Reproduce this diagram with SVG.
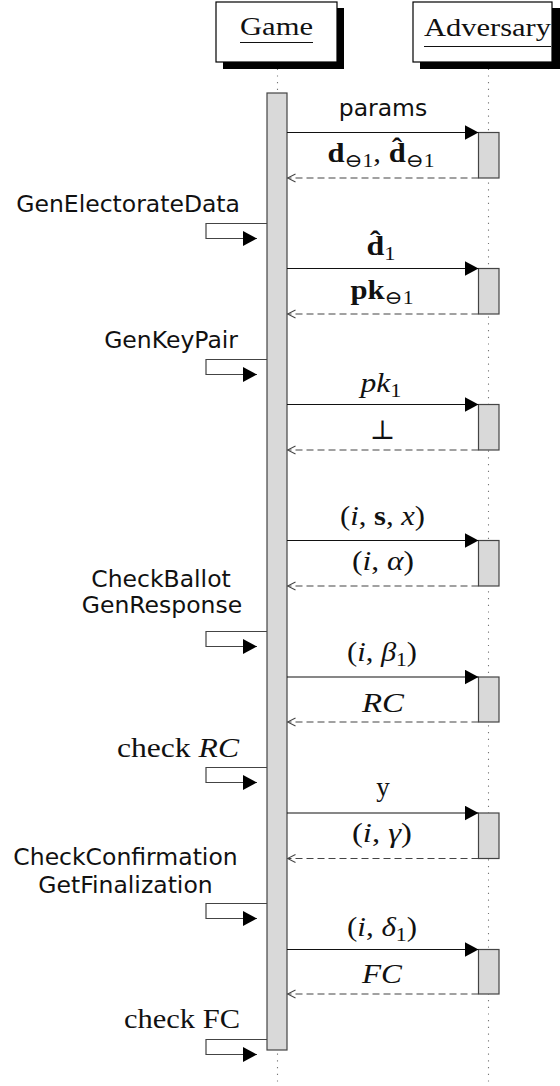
<svg xmlns="http://www.w3.org/2000/svg" width="560" height="1086" viewBox="0 0 560 1086">
<style>
.life{stroke:#777;stroke-width:1.1;stroke-dasharray:1.2 5.5;fill:none}
.box{fill:#fff;stroke:#000;stroke-width:1.2}
.shadow{fill:#000}
.bar{fill:#d9d9d9;stroke:#444;stroke-width:1.2}
.msg{stroke:#111;stroke-width:1.2;fill:none}
.ret{stroke:#444;stroke-width:1.2;stroke-dasharray:7 4;fill:none}
.self{stroke:#444;stroke-width:1.2;fill:none}
.sans{font-family:"DejaVu Sans",sans-serif;font-size:23.5px;fill:#111}
.m{font-family:"Liberation Serif","DejaVu Serif",serif;font-size:27px;fill:#111}
.hdr{font-family:"Liberation Serif","DejaVu Serif",serif;font-size:25px;fill:#111}
.i{font-style:italic}
.b{font-weight:bold}
.sub{font-size:19px}
</style>
<defs>
<marker id="fill" markerUnits="userSpaceOnUse" markerWidth="14" markerHeight="15" refX="14" refY="7.5" orient="auto">
<path d="M0,0 L14,7.5 L0,15 z" fill="#000"/>
</marker>
<marker id="open" markerUnits="userSpaceOnUse" markerWidth="10" markerHeight="10" refX="9" refY="5" orient="auto">
<path d="M1,1 L9,5 L1,9" fill="none" stroke="#444" stroke-width="1.1"/>
</marker>
</defs>
<rect width="560" height="1086" fill="#fff"/>

<g id="lifelines">
<line class="life" x1="277.5" y1="62" x2="277.5" y2="1086"/>
<line class="life" x1="488.5" y1="62" x2="488.5" y2="1086"/>
</g>

<g id="game">
<rect class="shadow" x="223" y="8" width="121" height="61"/>
<rect class="box" x="216" y="2" width="121" height="60"/>
<text class="hdr" x="240" y="35" textLength="73" lengthAdjust="spacingAndGlyphs">Game</text>
<line x1="240" y1="42.5" x2="313" y2="42.5" stroke="#111" stroke-width="1"/>
</g>

<g id="adversary">
<rect class="shadow" x="420" y="8" width="140" height="61"/>
<rect class="box" x="413" y="2" width="139" height="60"/>
<text class="hdr" x="424" y="36" textLength="127" lengthAdjust="spacingAndGlyphs">Adversary</text>
<line x1="424" y1="46.5" x2="551" y2="46.5" stroke="#111" stroke-width="1"/>
</g>

<g id="game-activation">
<rect class="bar" x="267" y="93" width="20" height="957"/>
</g>

<g id="adversary-activations">
<rect class="bar" x="478.5" y="132.5" width="20.5" height="45.5"/>
<rect class="bar" x="478.5" y="268.5" width="20.5" height="45.5"/>
<rect class="bar" x="478.5" y="404.5" width="20.5" height="45.5"/>
<rect class="bar" x="478.5" y="540.5" width="20.5" height="45.5"/>
<rect class="bar" x="478.5" y="677" width="20.5" height="45"/>
<rect class="bar" x="478.5" y="813" width="20.5" height="45.5"/>
<rect class="bar" x="478.5" y="949.5" width="20.5" height="44.5"/>
</g>

<g id="connectors">
<line class="msg" x1="287" y1="132.5" x2="478.5" y2="132.5" marker-end="url(#fill)"/>
<line class="ret" x1="478.5" y1="178" x2="287.5" y2="178" marker-end="url(#open)"/>
<line class="msg" x1="287" y1="268.5" x2="478.5" y2="268.5" marker-end="url(#fill)"/>
<line class="ret" x1="478.5" y1="314" x2="287.5" y2="314" marker-end="url(#open)"/>
<line class="msg" x1="287" y1="404.5" x2="478.5" y2="404.5" marker-end="url(#fill)"/>
<line class="ret" x1="478.5" y1="450" x2="287.5" y2="450" marker-end="url(#open)"/>
<line class="msg" x1="287" y1="540.5" x2="478.5" y2="540.5" marker-end="url(#fill)"/>
<line class="ret" x1="478.5" y1="586" x2="287.5" y2="586" marker-end="url(#open)"/>
<line class="msg" x1="287" y1="677" x2="478.5" y2="677" marker-end="url(#fill)"/>
<line class="ret" x1="478.5" y1="722" x2="287.5" y2="722" marker-end="url(#open)"/>
<line class="msg" x1="287" y1="813" x2="478.5" y2="813" marker-end="url(#fill)"/>
<line class="ret" x1="478.5" y1="858.5" x2="287.5" y2="858.5" marker-end="url(#open)"/>
<line class="msg" x1="287" y1="949.5" x2="478.5" y2="949.5" marker-end="url(#fill)"/>
<line class="ret" x1="478.5" y1="994" x2="287.5" y2="994" marker-end="url(#open)"/>

<path class="self" d="M267,223.5 H206 V238.5 H257" marker-end="url(#fill)"/>
<path class="self" d="M267,359.5 H206 V374.5 H257" marker-end="url(#fill)"/>
<path class="self" d="M267,631.5 H206 V646.5 H257" marker-end="url(#fill)"/>
<path class="self" d="M267,767.5 H206 V782.5 H257" marker-end="url(#fill)"/>
<path class="self" d="M267,903.5 H206 V918.5 H257" marker-end="url(#fill)"/>
<path class="self" d="M267,1039.5 H206 V1054.5 H257" marker-end="url(#fill)"/>
</g>

<g id="message-labels" text-anchor="middle">
<text class="sans" x="383" y="116">params</text>
<text class="m" x="381" y="162" textLength="107" lengthAdjust="spacingAndGlyphs"><tspan class="b">d</tspan><tspan class="sub" dy="5">⊖1</tspan><tspan dy="-5">, </tspan><tspan class="b">d&#x302;</tspan><tspan class="sub" dy="5">⊖1</tspan></text>
<text class="m" x="381" y="255" textLength="29" lengthAdjust="spacingAndGlyphs"><tspan class="b">d&#x302;</tspan><tspan class="sub" dy="5">1</tspan></text>
<text class="m" x="382" y="299" textLength="63" lengthAdjust="spacingAndGlyphs"><tspan class="b">pk</tspan><tspan class="sub" dy="5">⊖1</tspan></text>
<text class="m" x="381" y="392" textLength="41" lengthAdjust="spacingAndGlyphs"><tspan class="i">pk</tspan><tspan class="sub" dy="5">1</tspan></text>
<text class="m" x="382.5" y="439">⊥</text>
<text class="m" x="382.5" y="525" textLength="85" lengthAdjust="spacingAndGlyphs">(<tspan class="i">i</tspan>, <tspan class="b">s</tspan>, <tspan class="i">x</tspan>)</text>
<text class="m" x="383" y="570" textLength="62" lengthAdjust="spacingAndGlyphs">(<tspan class="i">i</tspan>, <tspan class="i">α</tspan>)</text>
<text class="m" x="382" y="661" textLength="70" lengthAdjust="spacingAndGlyphs">(<tspan class="i">i</tspan>, <tspan class="i">β</tspan><tspan class="sub" dy="5">1</tspan><tspan dy="-5">)</tspan></text>
<text class="m i" x="383" y="712" textLength="42" lengthAdjust="spacingAndGlyphs">RC</text>
<text class="m" x="383" y="796">y</text>
<text class="m" x="382" y="842" textLength="60" lengthAdjust="spacingAndGlyphs">(<tspan class="i">i</tspan>, <tspan class="i">γ</tspan>)</text>
<text class="m" x="382" y="936" textLength="70" lengthAdjust="spacingAndGlyphs">(<tspan class="i">i</tspan>, <tspan class="i">δ</tspan><tspan class="sub" dy="5">1</tspan><tspan dy="-5">)</tspan></text>
<text class="m i" x="382" y="983" textLength="40" lengthAdjust="spacingAndGlyphs">FC</text>
</g>

<g id="self-labels">
<text class="sans" x="240" y="212" text-anchor="end">GenElectorateData</text>
<text class="sans" x="238" y="348" text-anchor="end">GenKeyPair</text>
<text class="sans" x="161" y="587" text-anchor="middle">CheckBallot</text>
<text class="sans" x="162" y="613" text-anchor="middle">GenResponse</text>
<text class="m" x="239" y="757" text-anchor="end" textLength="122" lengthAdjust="spacingAndGlyphs">check <tspan class="i">RC</tspan></text>
<text class="sans" x="125.5" y="865" text-anchor="middle">CheckConfirmation</text>
<text class="sans" x="125.5" y="893" text-anchor="middle">GetFinalization</text>
<text class="m" x="240" y="1028" text-anchor="end" textLength="116" lengthAdjust="spacingAndGlyphs">check FC</text>
</g>
</svg>
